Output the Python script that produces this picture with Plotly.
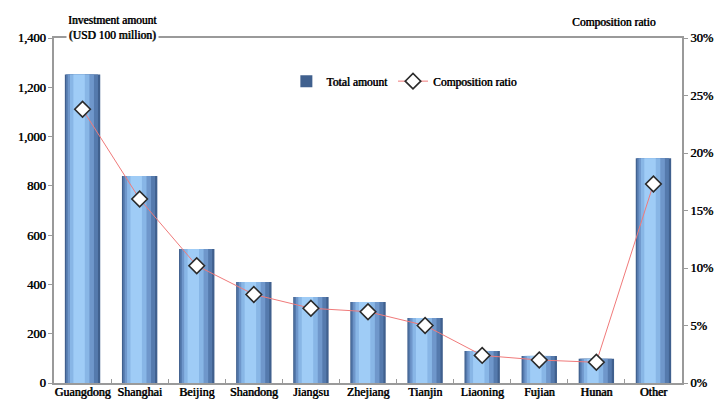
import plotly.graph_objects as go

regions = ["Guangdong", "Shanghai", "Beijing", "Shandong", "Jiangsu", "Zhejiang",
           "Tianjin", "Liaoning", "Fujian", "Hunan", "Other"]
total_amount = [1252, 840, 544, 410, 349, 329, 264, 130, 110, 98, 912]
composition_ratio = [23.8, 16.0, 10.2, 7.7, 6.5, 6.2, 5.0, 2.4, 2.0, 1.8, 17.3]

left_ticks = [0, 200, 400, 600, 800, 1000, 1200, 1400]
right_ticks = [0, 5, 10, 15, 20, 25, 30]
right_labels = ["0%", "5%", "10%", "15%", "20%", "25%", "30%"]

FONT = "Liberation Serif"
# a thin text shadow thickens the serif glyphs into a heavy face
HEAVY = "0.6px 0px 0px black"


def heavy(size):
    return dict(family=FONT, size=size, color="black", shadow=HEAVY)


fig = go.Figure()

# Layered bars give each column a cylinder-like shading (dark edges, light core)
layers = [
    (0.62, 0.0, "#40608e", True),
    (0.56, -0.01, "#557aad", False),
    (0.46, -0.03, "#6f97cb", False),
    (0.34, -0.05, "#88b6e6", False),
    (0.2, -0.06, "#9fccf6", False),
]
for w, shift, col, show in layers:
    fig.add_trace(go.Bar(
        x=regions, y=total_amount, name="Total amount",
        width=w, offset=-w / 2 + shift,
        marker=dict(color=col, line=dict(width=0)),
        showlegend=show, legendgroup="bars", yaxis="y",
    ))

fig.add_trace(go.Scatter(
    x=regions, y=composition_ratio, name="Composition ratio", yaxis="y2",
    mode="lines+markers",
    line=dict(color="#f07a7a", width=1),
    marker=dict(symbol="diamond", size=12, color="white",
                line=dict(color="#2a2a2a", width=1.6)),
))

fig.update_layout(
    width=715, height=400,
    margin=dict(l=54, r=33, t=38, b=17),
    paper_bgcolor="white", plot_bgcolor="white",
    barmode="overlay",
    font=dict(family=FONT, size=12, color="black"),
    showlegend=True,
    legend=dict(orientation="h", x=0.37, y=0.875, xanchor="left", yanchor="middle",
                font=heavy(11.5),
                bgcolor="rgba(0,0,0,0)", itemwidth=30, traceorder="normal"),
    xaxis=dict(
        type="category", range=[-0.5, len(regions) - 0.5],
        showgrid=False, showline=True, linecolor="#9a9a9a",
        linewidth=1.5, mirror=True, ticks="inside", tickson="boundaries",
        ticklen=4, tickcolor="#9a9a9a", tickangle=0, automargin=False,
        ticklabelstandoff=-3,
        tickfont=heavy(12),
    ),
    yaxis=dict(
        range=[0, 1400], tickvals=left_ticks, tickformat=",", showgrid=False,
        showline=True, linecolor="#9a9a9a", linewidth=1.5, ticks="outside",
        ticklen=4, tickcolor="#9a9a9a", zeroline=False, automargin=False,
        tickfont=heavy(12.5),
    ),
    yaxis2=dict(
        range=[0, 30], tickvals=right_ticks, ticktext=right_labels, overlaying="y",
        side="right", showgrid=False, showline=True, linecolor="#9a9a9a",
        linewidth=1.5, ticks="outside", ticklen=4, tickcolor="#9a9a9a",
        zeroline=False, automargin=False,
        tickfont=heavy(12.5),
    ),
    annotations=[
        dict(text="Investment amount<br>(USD 100 million)", xref="paper", yref="paper",
             x=0.093, y=1.03, xanchor="center", yanchor="middle", showarrow=False,
             align="center", bgcolor="white",
             font=heavy(11.5)),
        dict(text="Composition ratio", xref="paper", yref="paper",
             x=0.962, y=1.045, xanchor="right", yanchor="middle", showarrow=False,
             font=heavy(11.5)),
    ],
)

fig.write_html("out.html")
